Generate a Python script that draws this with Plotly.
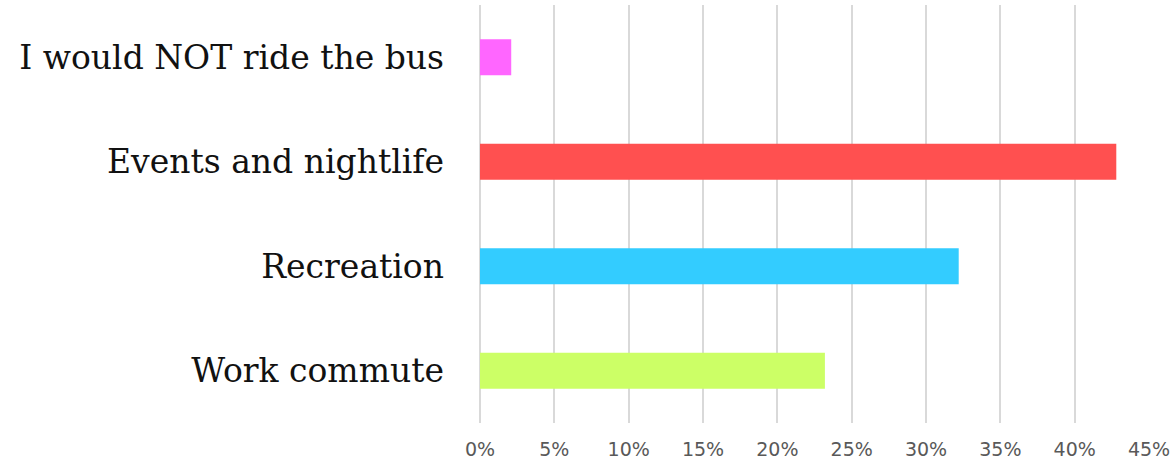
import plotly.graph_objects as go

# Survey responses: share of respondents per reason for riding the bus
categories = ["Work commute", "Recreation", "Events and nightlife", "I would NOT ride the bus"]
shares = [0.232, 0.322, 0.428, 0.021]
bar_colors = ["#CCFF66", "#33CCFF", "#FF5050", "#FF66FF"]
tick_values = [0, 0.05, 0.10, 0.15, 0.20, 0.25, 0.30, 0.35, 0.40, 0.45]

fig = go.Figure(
    go.Bar(
        x=shares,
        y=categories,
        orientation="h",
        width=0.345,
        marker=dict(color=bar_colors, line=dict(width=0)),
        hoverinfo="skip",
    )
)

fig.update_layout(
    width=1176,
    height=466,
    margin=dict(l=480, r=27, t=5, b=43),
    paper_bgcolor="white",
    plot_bgcolor="white",
    showlegend=False,
    xaxis=dict(
        range=[0, 0.45],
        tickvals=tick_values,
        tickformat=".0%",
        showgrid=True,
        gridcolor="#D9D9D9",
        gridwidth=2,
        zeroline=True,
        zerolinecolor="#D9D9D9",
        zerolinewidth=2,
        showline=False,
        ticks="",
        tickfont=dict(family="DejaVu Sans", size=19, color="#595959"),
        ticklabelstandoff=13,
        fixedrange=True,
    ),
    yaxis=dict(
        categoryorder="array",
        categoryarray=categories,
        showgrid=False,
        zeroline=False,
        showline=False,
        ticks="",
        tickfont=dict(family="DejaVu Serif", size=33, color="#111111"),
        ticklabelstandoff=35,
        fixedrange=True,
    ),
)

fig.write_html("out.html")
